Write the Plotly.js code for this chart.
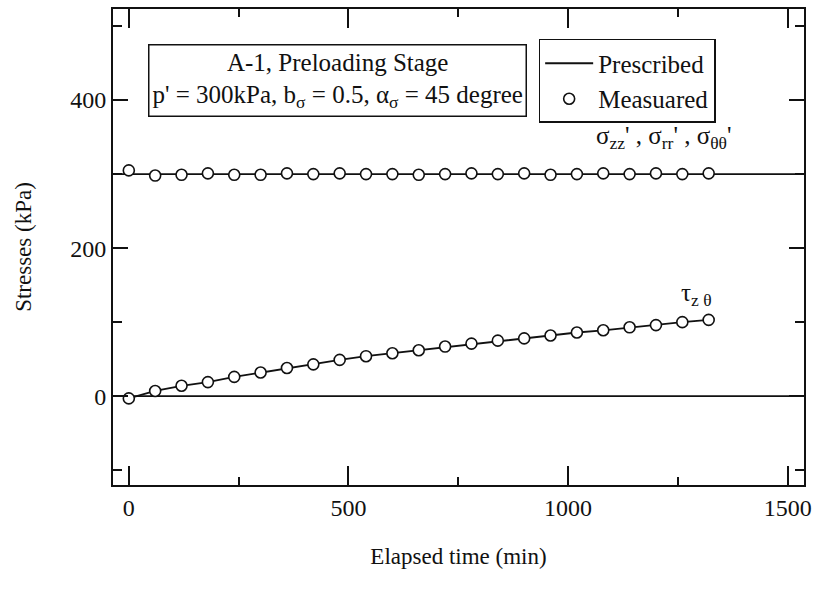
<!DOCTYPE html>
<html>
<head>
<meta charset="utf-8">
<script src="https://cdn.plot.ly/plotly-3.0.1.min.js"></script>
<style>html,body{margin:0;padding:0;background:#fff;}#chart{width:819px;height:597px;}</style>
</head>
<body>
<div id="chart"></div>
<script>
// Elapsed time of measured points (min)
const timeMin = [0, 60, 120, 180, 240, 300, 360, 420, 480, 540, 600, 660, 720, 780, 840, 900, 960, 1020, 1080, 1140, 1200, 1260, 1320];
// Measured effective normal stresses (kPa)
const sigmaMeasured = [305, 298, 299, 301, 299, 299, 301, 300, 301, 300, 300, 299, 300, 301, 300, 301, 299, 300, 301, 300, 301, 300, 301];
// Measured shear stress tau_z_theta (kPa)
const tauMeasured = [-3, 7, 14, 19, 26, 32, 38, 43, 49, 54, 58, 62, 67, 71, 75, 78, 82, 86, 89, 93, 96, 100, 103];
// Prescribed paths spanning the whole time window
const prescribedTime = [-40, 1540];
const prescribedSigma = [300, 300];
const prescribedZero = [0, 0];

const xTickVals = [0, 500, 1000, 1500];
const xTickText = ['0', '500', '1000', '1500'];
const yTickVals = [0, 200, 400];
const yTickText = ['0', '200', '400'];

const serif = "'Liberation Serif', 'Times New Roman', Times, serif";
const lineStyle = {color: '#111', width: 1.8};
const markerStyle = {symbol: 'circle', size: 11, color: '#fff', line: {color: '#111', width: 1.6}};

const traces = [
  {x: prescribedTime, y: prescribedSigma, mode: 'lines', name: 'Prescribed', line: lineStyle, legendgroup: 'a', showlegend: true},
  {x: prescribedTime, y: prescribedZero, mode: 'lines', line: lineStyle, showlegend: false},
  {x: timeMin, y: tauMeasured, mode: 'lines', line: lineStyle, showlegend: false},
  {x: timeMin, y: sigmaMeasured, mode: 'markers', name: 'Measuared', marker: markerStyle, legendgroup: 'b', showlegend: true},
  {x: timeMin, y: tauMeasured, mode: 'markers', marker: markerStyle, showlegend: false}
];

const axisCommon = {
  showline: true, linecolor: '#111', linewidth: 2, mirror: 'ticks',
  ticks: 'inside', tickcolor: '#111', tickwidth: 2,
  showgrid: false, zeroline: false,
  tickfont: {family: serif, size: 24, color: '#111'}
};

const layout = {
  width: 819, height: 597,
  margin: {l: 113, r: 15, t: 9, b: 112},
  paper_bgcolor: '#fff', plot_bgcolor: '#fff',
  font: {family: serif, color: '#111'},
  showlegend: true,
  xaxis: Object.assign({}, axisCommon, {
    range: [-36, 1537], tickmode: 'array', tickvals: xTickVals, ticktext: xTickText, ticklen: 19,
    minor: {dtick: 250, tick0: 0, ticks: 'inside', ticklen: 8, tickcolor: '#111', tickwidth: 2},
    title: {text: 'Elapsed time (min)', font: {family: serif, size: 23, color: '#111'}, standoff: 28}
  }),
  yaxis: Object.assign({}, axisCommon, {
    range: [-120, 523], tickmode: 'array', tickvals: yTickVals, ticktext: yTickText, ticklen: 15,
    minor: {dtick: 100, tick0: 0, ticks: 'inside', ticklen: 9, tickcolor: '#111', tickwidth: 2},
    title: {text: 'Stresses (kPa)', font: {family: serif, size: 23, color: '#111'}, standoff: 32}
  }),
  legend: {
    x: 0.616, y: 0.937, xanchor: 'left', yanchor: 'top',
    bgcolor: '#fff', bordercolor: '#111', borderwidth: 1.5,
    font: {family: serif, size: 25, color: '#111'},
    traceorder: 'grouped', tracegroupgap: 0, itemwidth: 48
  },
  annotations: [
    {xref: 'paper', yref: 'paper', x: 0.3256, y: 0.849, xanchor: 'center', yanchor: 'middle',
     text: 'A-1, Preloading Stage<br>p\' = 300kPa, b<sub>σ</sub> = 0.5, α<sub>σ</sub> = 45 degree',
     showarrow: false, align: 'center', bordercolor: '#111', borderwidth: 1.5, borderpad: 3, bgcolor: '#fff',
     font: {family: serif, size: 25, color: '#111'}},
    {xref: 'x', yref: 'y', x: 1375, y: 349, xanchor: 'right', yanchor: 'middle',
     text: 'σ<sub>zz</sub>\' , σ<sub>rr</sub>\' , σ<sub>θθ</sub>\'', showarrow: false,
     font: {family: serif, size: 25, color: '#111'}},
    {xref: 'x', yref: 'y', x: 1293, y: 137, xanchor: 'center', yanchor: 'middle',
     text: 'τ<sub>z θ</sub>', showarrow: false,
     font: {family: serif, size: 25, color: '#111'}}
  ]
};

Plotly.newPlot('chart', traces, layout, {displayModeBar: false, staticPlot: true});
</script>
</body>
</html>
